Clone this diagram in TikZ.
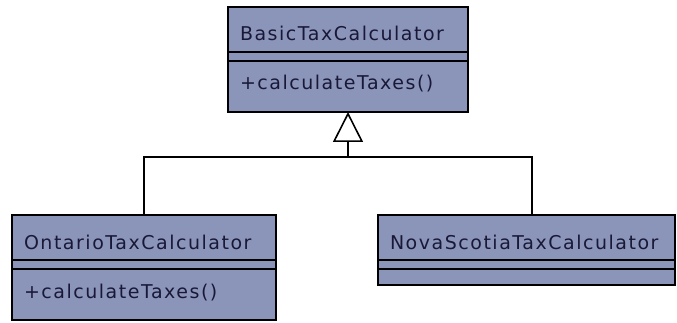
\documentclass[tikz,border=0pt]{standalone}
\usepackage{fontspec}
\usetikzlibrary{arrows.meta}
\newfontfamily\umlfont[LetterSpace=8]{DejaVu Sans}
\definecolor{umlfill}{RGB}{139,149,186}
\definecolor{umltext}{RGB}{25,25,55}

\tikzset{
  compart/.style = {draw = black, line width = 1.6pt, fill = umlfill, text = umltext,
                    inner ysep = 0pt, inner xsep = 12pt, outer sep = 0pt,
                    align = left, anchor = north west, text height = 0pt, text depth = 0pt},
  namepart/.style = {compart, text height = 34pt, text depth = 11pt},
  attrpart/.style = {compart, text height = 9pt},
  methpart/.style = {compart, text height = 29pt, text depth = 22pt},
  emptypart/.style = {compart, text height = 16pt},
  link/.style = {draw = black, line width = 1.6pt}
}

\begin{document}
\begin{tikzpicture}[x = 1pt, y = -1pt, font = {\umlfont\fontsize{19pt}{22pt}\selectfont}]
            \useasboundingbox (0,0) rectangle (677,323);

            % base class
            \node [namepart, text width = 216pt] (basic) at (228,7) {BasicTaxCalculator};
            \node [attrpart, text width = 216pt] (basic-attr) at (basic.south west) {};
            \node [methpart, text width = 216pt] (basic-meth) at (basic-attr.south west) {+calculateTaxes()};

            % subclasses
            \node [namepart, text width = 240pt] (onta) at (12,215) {OntarioTaxCalculator};
            \node [attrpart, text width = 240pt] (onta-attr) at (onta.south west) {};
            \node [methpart, text width = 240pt] (onta-meth) at (onta-attr.south west) {+calculateTaxes()};

            \node [namepart, text width = 273pt] (nova) at (378,215) {NovaScotiaTaxCalculator};
            \node [attrpart, text width = 273pt] (nova-attr) at (nova.south west) {};
            \node [emptypart, text width = 273pt] (nova-meth) at (nova-attr.south west) {};

            % generalization
            \coordinate (join) at (348,157);
            \draw [link] (onta.north) |- (join) -| ([xshift = 5.5pt]nova.north);
            \draw [link, -{Triangle[open, length = 30pt, width = 30pt, line width = 1.6pt]}] (join) -- (basic-meth.south);
        \end{tikzpicture}
\end{document}
